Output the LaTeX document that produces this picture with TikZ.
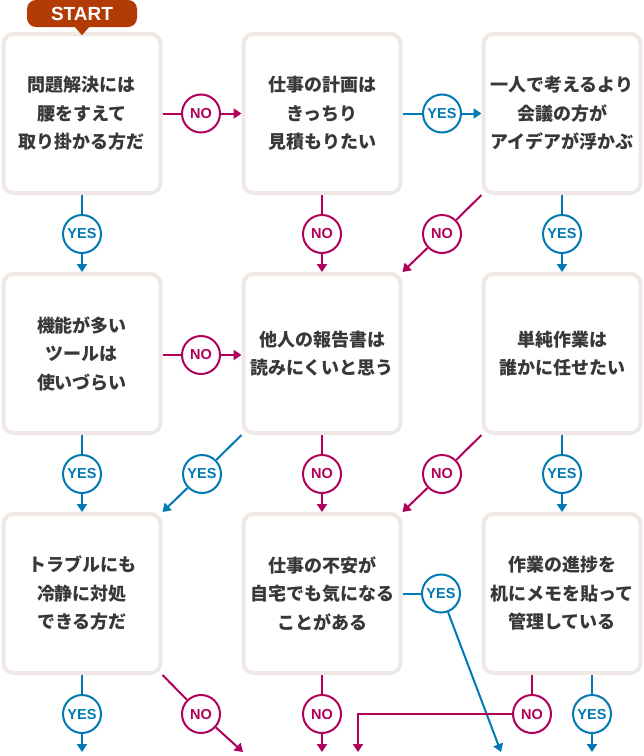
\documentclass[tikz,border=0pt]{standalone}
\usepackage{fontspec}
\usetikzlibrary{arrows.meta}
\newfontfamily\jp{Noto Sans CJK JP}
\newfontfamily\lat{Liberation Sans}
\definecolor{nocol}{RGB}{176,0,90}
\definecolor{yescol}{RGB}{0,122,180}
\definecolor{boxcol}{RGB}{239,232,228}
\definecolor{txt}{RGB}{56,56,56}
\definecolor{startcol}{RGB}{178,58,5}
\tikzset{
 qbox/.style={draw=boxcol, line width=4pt, fill=white, rounded corners=10pt, minimum width=157pt, minimum height=159pt, align=center, text=txt, font=\jp\bfseries\fontsize{18}{28.5}\selectfont, inner sep=0pt},
 badge/.style={circle, draw, line width=2pt, fill=white, minimum size=38pt, inner sep=0pt, font=\lat\bfseries\fontsize{14.5}{15}\selectfont},
 yesb/.style={badge, draw=yescol, text=yescol},
 nob/.style={badge, draw=nocol, text=nocol},
 yesl/.style={draw=yescol, line width=2pt},
 nol/.style={draw=nocol, line width=2pt},
 tip/.style={-{Triangle[length=8pt,width=10pt]}},
}
\begin{document}
\begin{tikzpicture}[x=1pt,y=-1pt]
\useasboundingbox (0,0) rectangle (644,756);
% boxes
\node[qbox] (b1) at (82,113.5) {問題解決には\\腰をすえて\\取り掛かる方だ};
\node[qbox] (b2) at (322,113.5) {仕事の計画は\\きっちり\\見積もりたい};
\node[qbox] (b3) at (562,113.5) {一人で考えるより\\会議の方が\\アイデアが浮かぶ};
\node[qbox] (b4) at (82,353.5) {機能が多い\\ツールは\\使いづらい};
\node[qbox] (b5) at (322,353.5) {他人の報告書は\\読みにくいと思う};
\node[qbox] (b6) at (562,353.5) {単純作業は\\誰かに任せたい};
\node[qbox] (b7) at (82,593.5) {トラブルにも\\冷静に対処\\できる方だ};
\node[qbox] (b8) at (322,593.5) {仕事の不安が\\自宅でも気になる\\ことがある};
\node[qbox] (b9) at (562,593.5) {作業の進捗を\\机にメモを貼って\\管理している};
% start tag
\node[fill=startcol, rounded corners=9pt, minimum width=110pt, minimum height=27pt, inner sep=0pt, text=white, font=\lat\bfseries\fontsize{19}{19}\selectfont] (start) at (82,13.5) {START};
\fill[startcol] ([xshift=-7pt]start.south) -- ([xshift=7pt]start.south) -- ([yshift=-8pt]start.south) -- cycle;
% badges
\node[nob] (n12) at (201,113.5) {NO};
\node[yesb] (y23) at (442,113.5) {YES};
\node[yesb] (y14) at (82,234) {YES};
\node[nob] (n25) at (322,234) {NO};
\node[nob] (n35) at (442,234) {NO};
\node[yesb] (y36) at (562,234) {YES};
\node[nob] (n45) at (201,355) {NO};
\node[yesb] (y47) at (82,474) {YES};
\node[yesb] (y57) at (202,474) {YES};
\node[nob] (n58) at (322,474) {NO};
\node[nob] (n68) at (442,474) {NO};
\node[yesb] (y69) at (562,474) {YES};
\node[yesb] (y7) at (82,714) {YES};
\node[nob] (n7) at (201,714) {NO};
\node[nob] (n8) at (322,714) {NO};
\node[yesb] (y8) at (441,593.5) {YES};
\node[nob] (n9) at (532,714) {NO};
\node[yesb] (y9) at (592,714) {YES};
% free ends
\coordinate (e7y) at (82,752);
\coordinate (e7n) at (243,752);
\coordinate (e8n) at (322,752);
\coordinate (e8y) at (501,752);
\coordinate (c9) at (358,714);
\coordinate (e9) at (358,752);
\coordinate (e9y) at (592,752);
% row 1
\draw[nol] (b1) -- (n12); \draw[nol,tip] (n12) -- (b2);
\draw[yesl] (b2) -- (y23); \draw[yesl,tip] (y23) -- (b3);
\draw[yesl] (b1) -- (y14); \draw[yesl,tip] (y14) -- (b4);
\draw[nol] (b2) -- (n25); \draw[nol,tip] (n25) -- (b5);
\draw[nol] (b3.south west) -- (n35); \draw[nol,tip] (n35) -- (b5.north east);
\draw[yesl] (b3) -- (y36); \draw[yesl,tip] (y36) -- (b6);
% row 2
\draw[nol] (b4.east |- n45) -- (n45); \draw[nol,tip] (n45) -- (b5.west |- n45);
\draw[yesl] (b4) -- (y47); \draw[yesl,tip] (y47) -- (b7);
\draw[yesl] (b5.south west) -- (y57); \draw[yesl,tip] (y57) -- (b7.north east);
\draw[nol] (b5) -- (n58); \draw[nol,tip] (n58) -- (b8);
\draw[nol] (b6.south west) -- (n68); \draw[nol,tip] (n68) -- (b8.north east);
\draw[yesl] (b6) -- (y69); \draw[yesl,tip] (y69) -- (b9);
% row 3
\draw[yesl] (b7) -- (y7); \draw[yesl,tip] (y7) -- (e7y);
\draw[nol] (b7.south east) -- (n7); \draw[nol,tip] (n7) -- (e7n);
\draw[nol] (b8) -- (n8); \draw[nol,tip] (n8) -- (e8n);
\draw[yesl] (b8) -- (y8); \draw[yesl,tip] (y8) -- (e8y);
\draw[nol] (b9.south -| n9) -- (n9); \draw[nol,tip] (n9) -- (c9) -- (e9);
\draw[yesl] (b9.south -| y9) -- (y9); \draw[yesl,tip] (y9) -- (e9y);
\end{tikzpicture}
\end{document}
